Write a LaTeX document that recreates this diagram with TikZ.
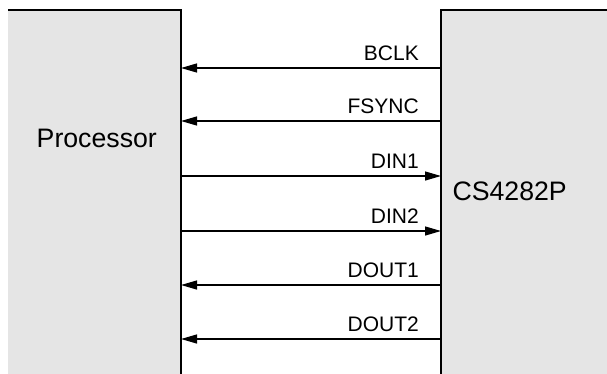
\documentclass[tikz,border=0pt]{standalone}
\usepackage{fontspec}
\setmainfont{Liberation Sans}
\usetikzlibrary{arrows.meta}
\definecolor{boxgray}{HTML}{E5E5E5}
\begin{document}
\begin{tikzpicture}[x=1pt,y=-1pt,
  blk/.style={rectangle,fill=boxgray,draw=none,inner sep=0pt,outer sep=0pt,anchor=north west},
  border/.style={line width=1.5pt,black},
  sig/.style={line width=1.3pt,-{Triangle[length=16pt,width=9pt]}},
  siglabel/.style={inner sep=0pt,anchor=base east,font=\fontsize{21}{25}\selectfont},
  blklabel/.style={inner sep=0pt,font=\fontsize{26.7}{30}\selectfont}]
\useasboundingbox (0,0) rectangle (607,373);
\node[blk,minimum width=173pt,minimum height=368pt] (proc) at (8,10) {};
\node[blk,minimum width=170pt,minimum height=368pt] (codec) at (441,10) {};
\draw[border] (proc.north west) -- (proc.north east) -- (proc.south east);
\draw[border] (codec.north east) -- (codec.north west) -- (codec.south west);
\node[blklabel,anchor=base west] (proctext) at (36.5,147) {Processor};
\node[blklabel,anchor=base east] (codectext) at (567,200) {CS4282P};
% signals
\coordinate (y1) at (0,68);
\coordinate (y2) at (0,121);
\coordinate (y3) at (0,176);
\coordinate (y4) at (0,231);
\coordinate (y5) at (0,285);
\coordinate (y6) at (0,339);
\draw[sig] (codec.west |- y1) -- (proc.east |- y1);
\draw[sig] (codec.west |- y2) -- (proc.east |- y2);
\draw[sig] (proc.east |- y3) -- (codec.west |- y3);
\draw[sig] (proc.east |- y4) -- (codec.west |- y4);
\draw[sig] (codec.west |- y5) -- (proc.east |- y5);
\draw[sig] (codec.west |- y6) -- (proc.east |- y6);
\node[siglabel] (l1) at (419,60) {BCLK};
\node[siglabel] (l2) at (419,113) {FSYNC};
\node[siglabel] (l3) at (419,168) {DIN1};
\node[siglabel] (l4) at (419,223) {DIN2};
\node[siglabel] (l5) at (419,277) {DOUT1};
\node[siglabel] (l6) at (419,331) {DOUT2};
\end{tikzpicture}
\end{document}
